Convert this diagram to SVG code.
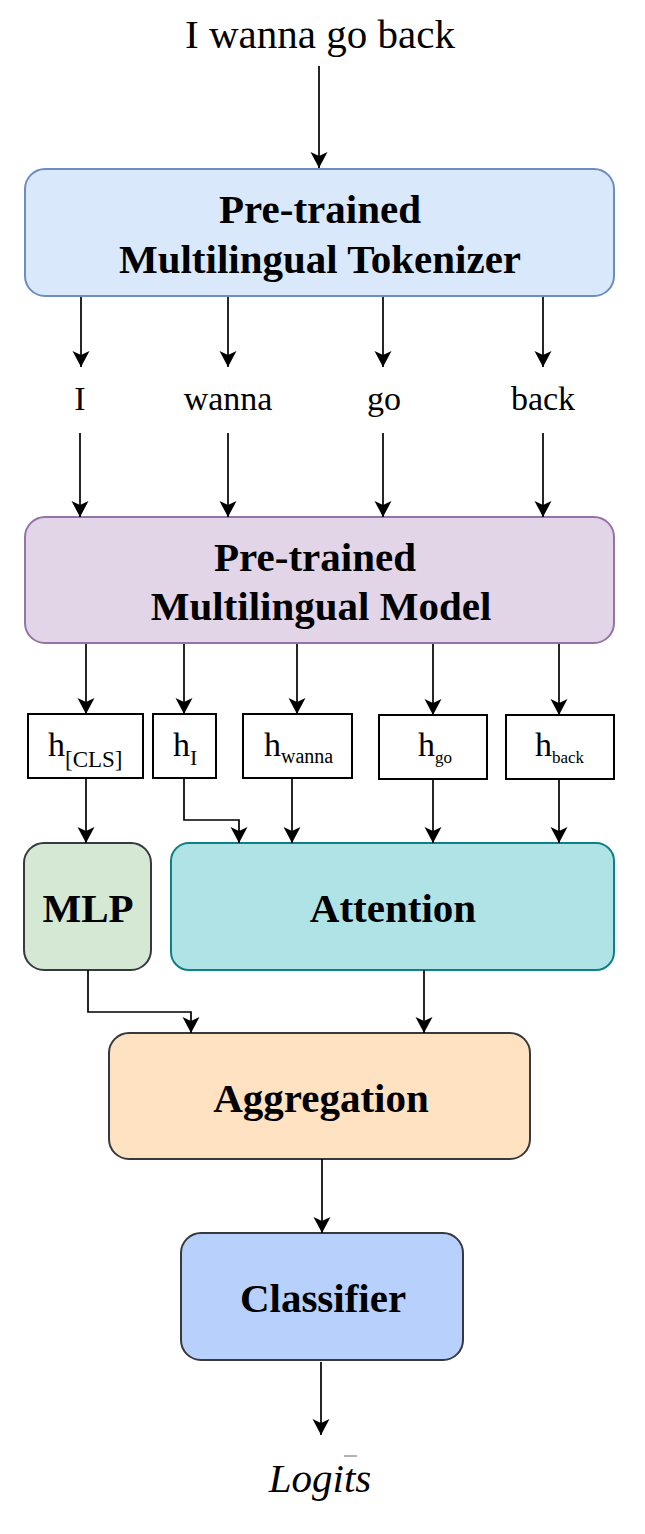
<svg xmlns="http://www.w3.org/2000/svg" width="645" height="1534" viewBox="0 0 645 1534">
<style>
.t{font-family:"Liberation Serif","Times New Roman",serif;fill:#000;text-anchor:middle}
.b{font-weight:bold;font-size:41px}
.w{font-size:34px}
.h{font-size:34px;text-anchor:start}
.ln{fill:none;stroke:#000;stroke-width:1.7;marker-end:url(#ah)}
.hb{fill:#fff;stroke:#000;stroke-width:2}
</style>
<defs>
<marker id="ah" markerUnits="userSpaceOnUse" markerWidth="20" markerHeight="20" viewBox="-18 -10 20 20" refX="0" refY="0" orient="auto">
<path d="M0,0 L-16,-8.5 L-12,0 L-16,8.5 Z" fill="#000"/>
</marker>
</defs>
<rect width="645" height="1534" fill="#fff"/>

<g id="input"><text class="t" x="320" y="48" font-size="41">I wanna go back</text></g>

<g id="tokenizer">
<rect x="25" y="169" width="589" height="127" rx="20" fill="#dae8fc" stroke="#6c8ebf" stroke-width="2"/>
<text class="t b" x="320" y="223">Pre-trained</text>
<text class="t b" x="320" y="273">Multilingual Tokenizer</text>
</g>

<g id="tokens">
<text class="t w" x="80" y="410">I</text>
<text class="t w" x="228" y="410">wanna</text>
<text class="t w" x="384" y="410">go</text>
<text class="t w" x="543" y="410">back</text>
</g>

<g id="model">
<rect x="25" y="517" width="589" height="126" rx="20" fill="#e1d5e7" stroke="#9673a6" stroke-width="2"/>
<text class="t b" x="315" y="571">Pre-trained</text>
<text class="t b" x="321" y="620">Multilingual Model</text>
</g>

<g id="h_cls">
<rect class="hb" x="28" y="714" width="115" height="64"/>
<text class="t h" x="48" y="756">h<tspan font-size="23" dy="11">[CLS]</tspan></text>
</g>
<g id="h_i">
<rect class="hb" x="153" y="714" width="63" height="64"/>
<text class="t h" x="173" y="756">h<tspan font-size="22" dy="9">I</tspan></text>
</g>
<g id="h_wanna">
<rect class="hb" x="243" y="714" width="109" height="64"/>
<text class="t h" x="264" y="756">h<tspan font-size="20" dy="7">wanna</tspan></text>
</g>
<g id="h_go">
<rect class="hb" x="379" y="715" width="108" height="64"/>
<text class="t h" x="418" y="756">h<tspan font-size="17" dy="7">go</tspan></text>
</g>
<g id="h_back">
<rect class="hb" x="506" y="715" width="108" height="64"/>
<text class="t h" x="535" y="756">h<tspan font-size="17" dy="7">back</tspan></text>
</g>

<g id="mlp">
<rect x="24" y="843" width="127" height="127" rx="20" fill="#d5e8d4" stroke="#36393d" stroke-width="2"/>
<text class="t b" x="88" y="922">MLP</text>
</g>
<g id="attention">
<rect x="171" y="843" width="443" height="127" rx="18" fill="#b0e3e6" stroke="#0e8088" stroke-width="2"/>
<text class="t b" x="393" y="922">Attention</text>
</g>
<g id="aggregation">
<rect x="109" y="1033" width="421" height="126" rx="20" fill="#fee2c1" stroke="#36393d" stroke-width="2"/>
<text class="t b" x="321" y="1112">Aggregation</text>
</g>
<g id="classifier">
<rect x="181" y="1233" width="282" height="127" rx="20" fill="#b8d0fc" stroke="#36393d" stroke-width="2"/>
<text class="t b" x="323" y="1312">Classifier</text>
</g>
<g id="logits">
<text class="t" x="320" y="1492" font-size="41" font-style="italic">Logits</text>
<line x1="344" y1="1456" x2="357" y2="1456" stroke="#999" stroke-width="1.5"/>
</g>

<g id="connectors">
<path class="ln" d="M319,66 V168"/>
<path class="ln" d="M81,297 V367"/>
<path class="ln" d="M228,297 V367"/>
<path class="ln" d="M383,297 V367"/>
<path class="ln" d="M543,297 V367"/>
<path class="ln" d="M80,433 V517"/>
<path class="ln" d="M228,433 V517"/>
<path class="ln" d="M383,433 V517"/>
<path class="ln" d="M543,433 V517"/>
<path class="ln" d="M86,644 V714"/>
<path class="ln" d="M184,644 V714"/>
<path class="ln" d="M297,644 V714"/>
<path class="ln" d="M433,644 V715"/>
<path class="ln" d="M559,644 V715"/>
<path class="ln" d="M86,778 V843"/>
<path class="ln" d="M184,778 V820 H239 V843"/>
<path class="ln" d="M292,778 V843"/>
<path class="ln" d="M433,779 V843"/>
<path class="ln" d="M559,779 V843"/>
<path class="ln" d="M88,970 V1012 H191 V1033"/>
<path class="ln" d="M424,970 V1033"/>
<path class="ln" d="M322,1159 V1233"/>
<path class="ln" d="M321,1362 V1435"/>
</g>
</svg>
